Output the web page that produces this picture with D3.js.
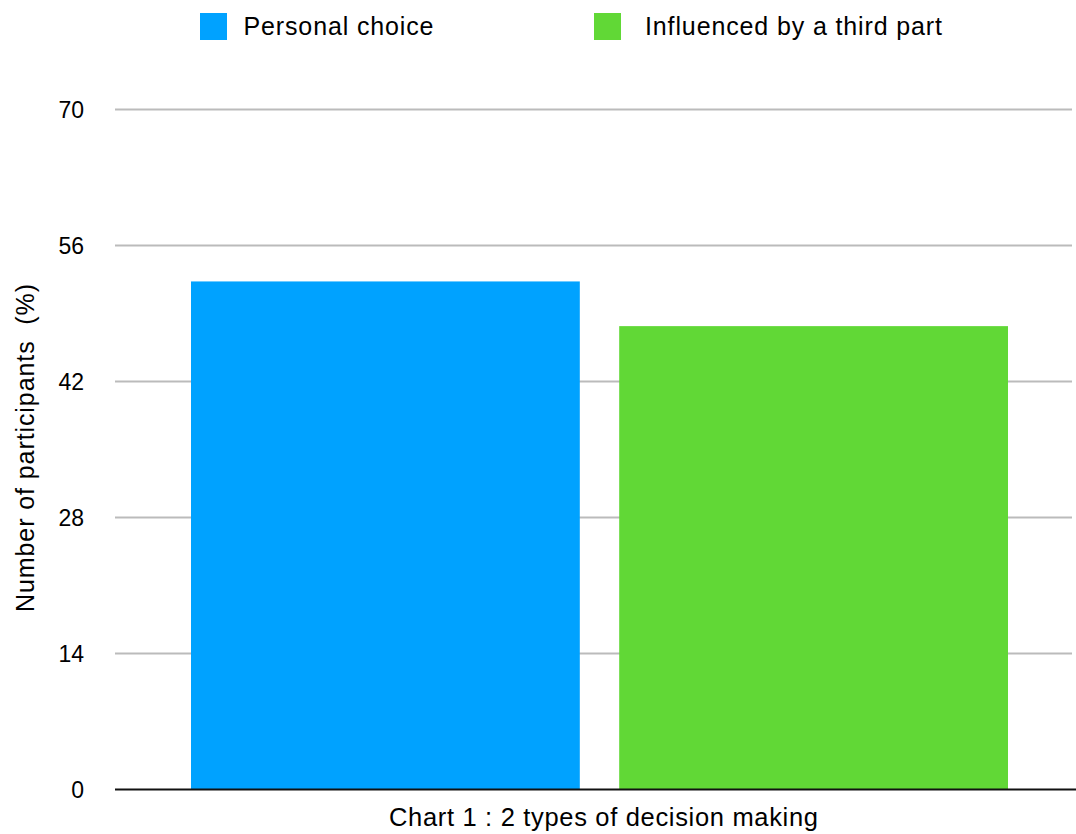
<!DOCTYPE html>
<html><head><meta charset="utf-8">
<script src="https://cdn.jsdelivr.net/npm/d3@7"></script>
<style>body{margin:0;background:#fff;} svg{display:block;font-family:"Liberation Sans",Arial,Helvetica,sans-serif;} text{white-space:pre;}</style>
</head><body>
<svg id="chart" width="1076" height="834"></svg>
<script>
const series = ["Personal choice", "Influenced by a third part"];
const values = [52.3, 47.7];
const colors = ["#00a2ff", "#61d836"];
const yTicks = [0, 14, 28, 42, 56, 70];
const xTitle = "Chart 1 : 2 types of decision making";
const yTitle = "Number of participants  (%)";

const svg = d3.select("#chart");
const mLeft = 115, mRight = 1076, mTop = 109.5, mBottom = 789.5;
const y = d3.scaleLinear().domain([0, 70]).range([mBottom, mTop]);
const x = d3.scaleBand().domain(series).range([191, 1008]).paddingInner(0.092);

// gridlines
svg.append("g").selectAll("line").data(yTicks.filter(d => d > 0)).join("line")
  .attr("x1", mLeft).attr("x2", mRight - 4)
  .attr("y1", d => y(d)).attr("y2", d => y(d))
  .attr("stroke", "#bbbbbb").attr("stroke-width", 2);

// tick labels
svg.append("g").selectAll("text").data(yTicks).join("text")
  .attr("x", 84).attr("y", d => y(d)).attr("dy", "0.36em")
  .attr("text-anchor", "end").attr("font-size", 23).attr("fill", "#000")
  .text(d => d);

// bars
svg.append("g").selectAll("rect").data(values).join("rect")
  .attr("x", (d, i) => x(series[i])).attr("width", x.bandwidth())
  .attr("y", d => y(d)).attr("height", d => y(0) - y(d))
  .attr("fill", (d, i) => colors[i]);

// baseline
svg.append("line").attr("x1", mLeft).attr("x2", mRight).attr("y1", y(0)).attr("y2", y(0))
  .attr("stroke", "#111").attr("stroke-width", 2);

// axis titles
svg.append("text").attr("x", 603.5).attr("y", 826).attr("text-anchor", "middle")
  .attr("font-size", 25.5).attr("textLength", 429).attr("lengthAdjust", "spacing").text(xTitle);
svg.append("text").attr("transform", "translate(34,448) rotate(-90)")
  .attr("text-anchor", "middle").attr("font-size", 25)
  .attr("textLength", 328).attr("lengthAdjust", "spacing").text(yTitle);

// legend
const legX = [200, 594];
const legTextX = [243.5, 645];
const legW = [190, 297];
const lg = svg.append("g").selectAll("g").data(series).join("g");
lg.append("rect").attr("x", (d, i) => legX[i]).attr("y", 13)
  .attr("width", 27).attr("height", 27).attr("fill", (d, i) => colors[i]);
lg.append("text").attr("x", (d, i) => legTextX[i]).attr("y", 34.5)
  .attr("font-size", 25).attr("textLength", (d, i) => legW[i]).attr("lengthAdjust", "spacing")
  .text(d => d);
</script>
</body></html>
